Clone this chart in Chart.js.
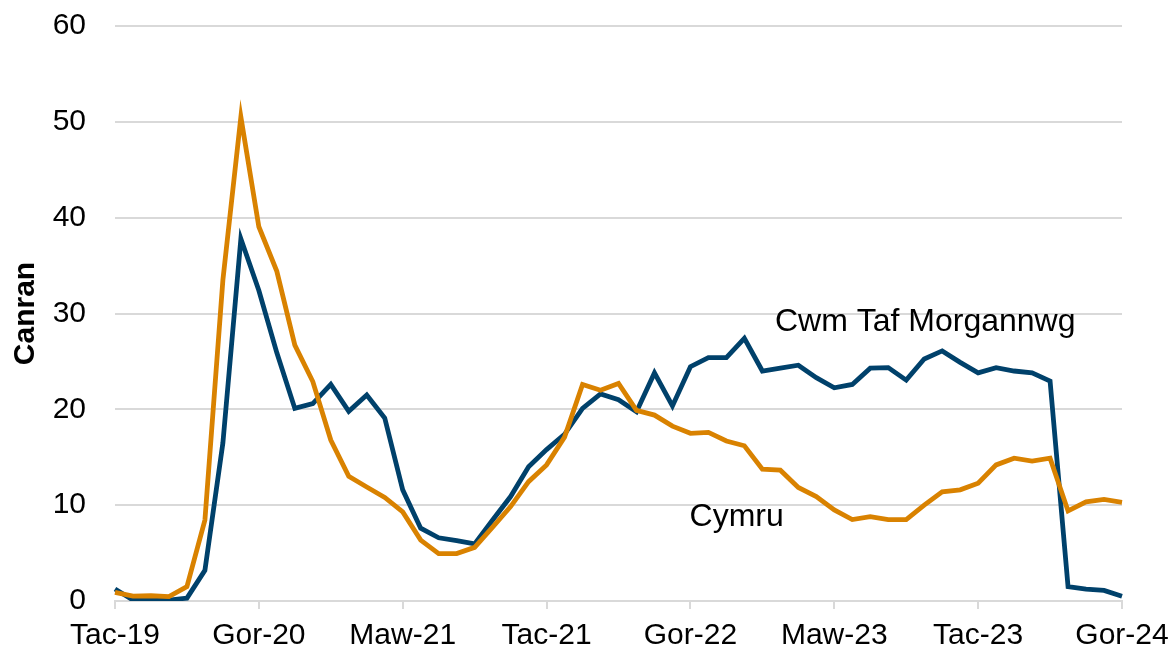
<!DOCTYPE html>
<html>
<head>
<meta charset="utf-8">
<script src="https://cdn.jsdelivr.net/npm/chart.js@4"></script>
<style>
  html, body { margin: 0; padding: 0; background: #fff; }
  #wrap { width: 1174px; height: 652px; position: relative; }
</style>
</head>
<body>
<div id="wrap"><canvas id="chart"></canvas></div>
<script>
// months, Tachwedd 2019 -> Gorffennaf 2024
const months = [
  'Tac-19', 'Rha-19',
  'Ion-20', 'Chw-20', 'Maw-20', 'Ebr-20', 'Mai-20', 'Meh-20', 'Gor-20', 'Aws-20', 'Med-20', 'Hyd-20', 'Tac-20', 'Rha-20',
  'Ion-21', 'Chw-21', 'Maw-21', 'Ebr-21', 'Mai-21', 'Meh-21', 'Gor-21', 'Aws-21', 'Med-21', 'Hyd-21', 'Tac-21', 'Rha-21',
  'Ion-22', 'Chw-22', 'Maw-22', 'Ebr-22', 'Mai-22', 'Meh-22', 'Gor-22', 'Aws-22', 'Med-22', 'Hyd-22', 'Tac-22', 'Rha-22',
  'Ion-23', 'Chw-23', 'Maw-23', 'Ebr-23', 'Mai-23', 'Meh-23', 'Gor-23', 'Aws-23', 'Med-23', 'Hyd-23', 'Tac-23', 'Rha-23',
  'Ion-24', 'Chw-24', 'Maw-24', 'Ebr-24', 'Mai-24', 'Meh-24', 'Gor-24'
];

// only these appear on the axis
const shownTicks = ['Tac-19', 'Gor-20', 'Maw-21', 'Tac-21', 'Gor-22', 'Maw-23', 'Tac-23', 'Gor-24'];

const cwmTaf = [
  1.25, 0.1, 0.1, 0.1, 0.3, 3.2, 16.5, 37.8, 32.4, 25.9,
  20.1, 20.6, 22.6, 19.8, 21.5, 19.1, 11.6, 7.6, 6.6, 6.3,
  5.95, 8.45, 10.9, 14.0, 15.8, 17.4, 20.1, 21.6, 21.0, 19.75,
  23.8, 20.35, 24.45, 25.4, 25.4, 27.4, 24.0, 24.3, 24.6, 23.3,
  22.25, 22.6, 24.3, 24.35, 23.05, 25.25, 26.1, 24.9, 23.8, 24.35,
  24.0, 23.8, 22.95, 1.5, 1.25, 1.1, 0.5
];

const cymru = [
  0.9, 0.5, 0.55, 0.45, 1.5, 8.45, 33.5, 50.5, 39.05, 34.4,
  26.7, 22.9, 16.8, 13.0, 11.9, 10.8, 9.3, 6.35, 4.95, 4.95,
  5.6, 7.7, 9.85, 12.45, 14.2, 17.1, 22.6, 22.0, 22.7, 19.9,
  19.4, 18.25, 17.5, 17.6, 16.7, 16.2, 13.75, 13.65, 11.85, 10.9,
  9.5, 8.5, 8.8, 8.5, 8.5, 10.0, 11.4, 11.6, 12.3, 14.2,
  14.9, 14.6, 14.9, 9.4, 10.35, 10.6, 10.3
];

// series name labels, anchored to (month index, value)
const seriesLabels = [
  { text: 'Cwm Taf Morgannwg', at: 36.7, value: 28.2 },
  { text: 'Cymru', at: 31.95, value: 7.8 }
];

const FONT = "'Liberation Sans', Arial, sans-serif";
const GRID = '#d9d9d9';

const lineLabels = {
  id: 'lineLabels',
  afterDatasetsDraw(chart) {
    const { ctx, scales: { x, y } } = chart;
    ctx.save();
    ctx.font = `32px ${FONT}`;
    ctx.fillStyle = '#000';
    ctx.textAlign = 'left';
    ctx.textBaseline = 'alphabetic';
    seriesLabels.forEach(l => {
      ctx.fillText(l.text, x.getPixelForValue(l.at), y.getPixelForValue(l.value));
    });
    ctx.restore();
  }
};

new Chart(document.getElementById('chart'), {
  type: 'line',
  data: {
    labels: months,
    datasets: [
      {
        label: 'Cymru',
        data: cymru,
        borderColor: '#d98200',
        borderWidth: 4.8,
        pointRadius: 0,
        tension: 0
      },
      {
        label: 'Cwm Taf Morgannwg',
        data: cwmTaf,
        borderColor: '#00416b',
        borderWidth: 4.8,
        pointRadius: 0,
        tension: 0
      }
    ]
  },
  options: {
    responsive: true,
    maintainAspectRatio: false,
    animation: false,
    layout: { autoPadding: false, padding: { left: 0, right: 52, top: 26, bottom: 0 } },
    plugins: {
      legend: { display: false },
      tooltip: { enabled: false }
    },
    scales: {
      x: {
        offset: false,
        // fixed axis box so the plot sits where the original does
        afterFit: s => { s.height = 51; s.paddingLeft = 0; s.paddingRight = 0; },
        border: { display: true, color: GRID, width: 2 },
        grid: {
          drawOnChartArea: false,
          drawTicks: true,
          tickLength: 8,
          color: GRID,
          lineWidth: 2
        },
        ticks: {
          autoSkip: false,
          maxRotation: 0,
          padding: 9,
          color: '#000',
          font: { family: FONT, size: 30 },
          callback: function (v) {
            const lab = this.getLabelForValue(v);
            return shownTicks.includes(lab) ? lab : null;
          }
        }
      },
      y: {
        min: 0,
        max: 60,
        afterFit: s => { s.width = 115; s.paddingTop = 0; s.paddingBottom = 0; },
        border: { display: false },
        grid: { color: GRID, lineWidth: 2, drawTicks: false },
        ticks: {
          stepSize: 10,
          padding: 29,
          color: '#000',
          font: { family: FONT, size: 30 }
        },
        title: {
          display: true,
          text: 'Canran',
          color: '#000',
          padding: { top: 8, bottom: 0 },
          font: { family: FONT, size: 30, weight: 'bold' }
        }
      }
    }
  },
  plugins: [lineLabels]
});
</script>
</body>
</html>
